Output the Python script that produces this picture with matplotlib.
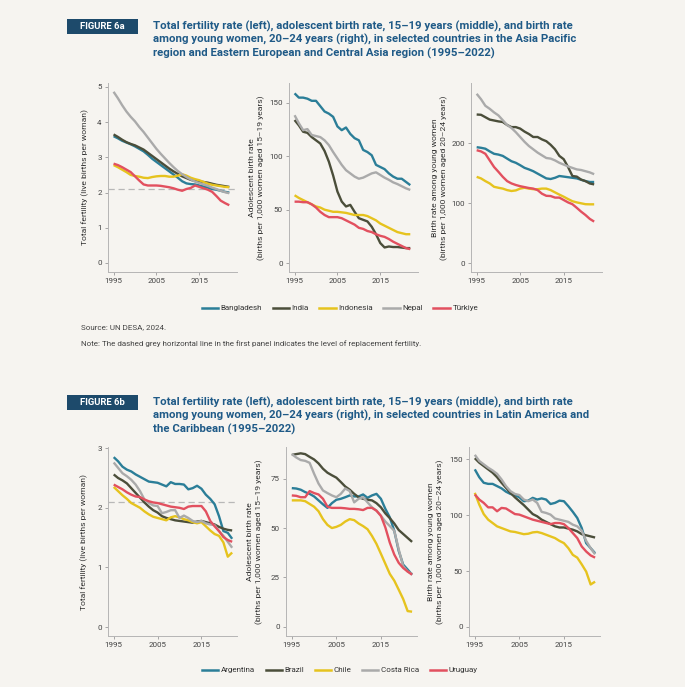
import numpy as np
import matplotlib.pyplot as plt
from matplotlib.patches import Rectangle
from matplotlib.lines import Line2D

plt.rcParams['font.family'] = ['Roboto', 'DejaVu Sans']

years = list(range(1995, 2023))

# Figure 6a: Asia Pacific / Eastern Europe and Central Asia
asia_names = ['Bangladesh', 'India', 'Indonesia', 'Nepal', 'Türkiye']
tfr_bangladesh = [3.6, 3.54, 3.47, 3.42, 3.37, 3.31, 3.24, 3.17, 3.07, 2.96, 2.87, 2.78, 2.69, 2.6,
                  2.51, 2.42, 2.32, 2.26, 2.24, 2.23, 2.2, 2.17, 2.14, 2.1, 2.08, 2.05, 2.02, 2.0]
tfr_india = [3.65, 3.58, 3.5, 3.43, 3.38, 3.34, 3.28, 3.22, 3.13, 3.04, 2.95, 2.86, 2.77, 2.68,
             2.6, 2.53, 2.46, 2.41, 2.36, 2.33, 2.31, 2.3, 2.28, 2.25, 2.22, 2.2, 2.18, 2.16]
tfr_indonesia = [2.78, 2.72, 2.65, 2.58, 2.5, 2.47, 2.45, 2.42, 2.41, 2.44, 2.46, 2.47, 2.47, 2.45,
                 2.45, 2.48, 2.52, 2.48, 2.42, 2.38, 2.35, 2.3, 2.25, 2.22, 2.2, 2.18, 2.16, 2.15]
tfr_nepal = [4.86, 4.68, 4.48, 4.3, 4.15, 4.02, 3.86, 3.72, 3.56, 3.4, 3.24, 3.1, 2.97, 2.84,
             2.72, 2.61, 2.52, 2.44, 2.37, 2.31, 2.27, 2.23, 2.19, 2.14, 2.1, 2.05, 2.01, 1.98]
tfr_turkiye = [2.82, 2.78, 2.72, 2.65, 2.58, 2.46, 2.34, 2.23, 2.2, 2.2, 2.2, 2.19, 2.17, 2.15,
               2.12, 2.08, 2.05, 2.1, 2.13, 2.2, 2.16, 2.12, 2.08, 2.02, 1.9, 1.77, 1.7, 1.64]

abr_bangladesh = [159, 155, 155, 154, 152, 152, 147, 142, 140, 137, 128, 124.5, 127, 121,
                  117, 115, 106, 104, 101, 92, 90, 88, 84, 81, 79, 79, 76, 73]
abr_india = [134, 129, 123, 122, 118, 115, 112, 105, 95, 82, 67, 57.6, 53, 54.5,
             48, 42, 40.5, 39, 34, 27, 18.7, 14.6, 15.5, 15, 15, 14.5, 14, 14]
abr_indonesia = [63.5, 61, 59, 57, 55, 53, 52, 50, 49, 48, 48, 47.5, 47, 46,
                 45, 45, 45, 44, 42, 40, 37, 35, 33, 31, 29, 28, 27, 27]
abr_nepal = [138.5, 131, 124.5, 125.5, 120, 119, 118, 115, 110.5, 104, 98, 92, 87, 84,
             81, 79, 80, 82, 84, 85, 82.5, 80, 78, 75.6, 74, 72, 70, 68.5]
abr_turkiye = [57.5, 57.5, 57, 57, 55, 52, 48, 45, 43, 43, 43, 42, 40, 38,
               36, 33, 32, 30, 29, 27, 25.5, 24.5, 22.5, 20, 18, 16, 14, 13]

yw_bangladesh = [193, 192, 190.5, 186, 182, 180.7, 178.5, 174, 169.6, 167, 163, 158.6, 156, 153,
                 149, 145, 141, 140, 142, 145, 144, 143, 142, 141, 138.7, 136.5, 135, 135]
yw_india = [247.5, 247, 243, 239, 237.5, 236, 235, 230, 226.5, 226.5, 224, 219, 215, 210,
            210, 206, 203, 197, 189.5, 178.5, 173, 160, 145, 144, 139, 136.5, 132.5, 131]
yw_indonesia = [143.6, 141, 136.5, 132.6, 127, 125.4, 124, 121.5, 120, 121, 124, 125.4, 124, 123,
                123, 124, 124, 121.5, 117.7, 114, 110.5, 106.6, 103, 101, 99.5, 98, 97.8, 97.8]
yw_nepal = [282, 273, 262, 257, 251, 246, 238, 230, 225, 218, 210, 202, 195, 189.5,
            184, 179.5, 175, 174, 171, 167, 164, 161, 158.5, 156, 155, 153, 151, 148]
yw_turkiye = [188, 186, 182, 171, 160, 152, 143.6, 136.5, 132.6, 130, 128, 126.5, 125, 124,
              121.5, 115.5, 112, 111.6, 109, 109, 105, 101, 98, 92, 85.6, 80, 73.5, 69]

# Figure 6b: Latin America and the Caribbean
latam_names = ['Argentina', 'Brazil', 'Chile', 'Costa Rica', 'Uruguay']
tfr_argentina = [2.85, 2.78, 2.69, 2.64, 2.61, 2.56, 2.52, 2.48, 2.44, 2.43, 2.42, 2.39, 2.36, 2.43,
                 2.4, 2.4, 2.39, 2.31, 2.33, 2.37, 2.32, 2.22, 2.15, 2.06, 1.86, 1.61, 1.58, 1.48]
tfr_brazil = [2.56, 2.5, 2.46, 2.41, 2.33, 2.25, 2.17, 2.09, 2.02, 1.96, 1.92, 1.86, 1.83, 1.81,
              1.79, 1.78, 1.77, 1.76, 1.75, 1.77, 1.78, 1.76, 1.74, 1.72, 1.68, 1.65, 1.63, 1.62]
tfr_chile = [2.35, 2.28, 2.21, 2.15, 2.08, 2.04, 2.0, 1.94, 1.89, 1.85, 1.83, 1.81, 1.79, 1.84,
             1.86, 1.84, 1.81, 1.79, 1.76, 1.74, 1.76, 1.69, 1.62, 1.56, 1.53, 1.42, 1.18, 1.25]
tfr_costarica = [2.76, 2.67, 2.58, 2.53, 2.47, 2.39, 2.28, 2.14, 2.08, 2.04, 2.03, 1.91, 1.93, 1.96,
                 1.96, 1.83, 1.87, 1.83, 1.78, 1.76, 1.78, 1.74, 1.72, 1.71, 1.61, 1.53, 1.43, 1.33]
tfr_uruguay = [2.39, 2.35, 2.31, 2.26, 2.22, 2.19, 2.18, 2.14, 2.11, 2.09, 2.08, 2.06, 2.04, 2.02,
               2.01, 2.0, 1.98, 2.02, 2.03, 2.03, 2.03, 1.94, 1.78, 1.69, 1.61, 1.51, 1.46, 1.43]

abr_argentina = [70.2, 70, 69.4, 68.2, 67.3, 66, 64, 62, 60.2, 62.6, 64.3, 64.8, 65.6, 66.5,
                 66, 66, 67, 65.3, 66.5, 67.3, 64.8, 59.7, 55.4, 48.6, 38.4, 31.5, 29, 26.4]
abr_brazil = [87, 87.4, 87.8, 87.4, 86, 84.7, 82.7, 80, 78, 76.7, 75.5, 73.3, 71, 69.4,
              67.3, 65.6, 64.8, 64.3, 64, 62.6, 60.5, 57.4, 55, 52.3, 49, 47, 45, 43]
abr_chile = [64, 64, 64, 63.6, 62.2, 60.8, 58.5, 54.5, 51.6, 50, 50.6, 51.6, 53.3, 54.5,
             54, 52.3, 51, 49.4, 46, 42, 37, 31.9, 26.8, 23.4, 18.8, 14.1, 8, 7.7]
abr_costarica = [87.4, 85.7, 84.4, 84, 83, 77.5, 72.5, 69, 67.7, 66.5, 65.6, 67.3, 70, 68.7,
                 63, 64.8, 65.6, 63, 60.5, 58.8, 56.2, 53.3, 51, 48.6, 39.2, 30.7, 28, 26.8]
abr_uruguay = [66.5, 66.3, 65.6, 65.6, 68.7, 67.7, 67, 64.8, 60.8, 60.2, 60.2, 60.2, 60, 59.7,
               59.7, 59.5, 59.1, 60.2, 60.2, 58.8, 56.2, 50.3, 42.6, 36.6, 32.4, 29.8, 28, 26.4]

yw_argentina = [141, 134, 129, 128, 128, 126, 124, 121, 119, 118, 116, 112.5, 113, 115.5,
                114, 115, 114, 110, 111, 113, 112.5, 108, 103, 97.5, 88.5, 75, 70.5, 66]
yw_brazil = [151, 147, 144, 141, 138, 134, 129, 124.5, 120, 116, 112.5, 109, 105, 101,
             99, 96, 94, 92, 90, 89, 89, 88, 87, 85.5, 83, 82, 81, 80]
yw_chile = [120, 109.5, 101, 96, 93, 90, 88.5, 87, 85.5, 85, 84, 83, 83.4, 84.6,
            85, 84, 82.5, 81, 79.5, 77, 75, 70.5, 64.5, 62, 56, 49.5, 38, 40.5]
yw_costarica = [154, 148.5, 145.5, 142.5, 140, 137, 132, 126, 121.5, 119, 118, 114, 112.5, 114,
                111, 103, 102, 100.5, 97, 96, 95, 94, 91.5, 90, 86, 77, 70.5, 65]
yw_uruguay = [118.5, 114, 111, 107, 107, 103.5, 106.5, 106, 103.5, 101, 100.5, 99, 97.5, 96,
              95, 94, 93, 92, 93, 93, 92, 88.5, 84, 79.5, 72, 67.5, 64, 62]

replacement_level = 2.1
colors = ['#2b7e98', '#4b4e3a', '#e6c31e', '#aaaaaa', '#e2505f']

title_a = ('Total fertility rate (left), adolescent birth rate, 15\u201319 years (middle), and birth rate\n'
           'among young women, 20\u201324 years (right), in selected countries in the Asia Pacific\n'
           'region and Eastern European and Central Asia region (1995\u20132022)')
title_b = ('Total fertility rate (left), adolescent birth rate, 15\u201319 years (middle), and birth rate\n'
           'among young women, 20\u201324 years (right), in selected countries in Latin America and\n'
           'the Caribbean (1995\u20132022)')
ylabels = ['Total fertility (live births per woman)',
           'Adolescent birth rate\n(births per 1,000 women aged 15\u201319 years)',
           'Birth rate among young women\n(births per 1,000 women aged 20\u201324 years)']

W, H = 685, 687
bg = '#f6f4f0'
fig = plt.figure(figsize=(W / 100, H / 100), dpi=100, facecolor=bg)


def fx(x):
    return x / W


def fy(y):
    return 1 - y / H


def make_ax(left, right, top, bottom):
    ax = fig.add_axes([fx(left), fy(bottom), fx(right - left), (bottom - top) / H])
    ax.set_facecolor('none')
    for s in ['top', 'right']:
        ax.spines[s].set_visible(False)
    for s in ['left', 'bottom']:
        ax.spines[s].set_color('#b5b5b5')
        ax.spines[s].set_linewidth(0.7)
    ax.tick_params(colors='#999999', labelcolor='#444444', labelsize=5.8, length=2.5, width=0.6, pad=2)
    ax.set_xticks([1995, 2005, 2015])
    return ax


def draw_row(series_sets, names, lefts_rights, top, bottom, ylims, yticks, xlim, label_xs, hline_panel):
    for i, (series, (l, r)) in enumerate(zip(series_sets, lefts_rights)):
        ax = make_ax(l, r, top, bottom)
        if i == hline_panel:
            ax.axhline(replacement_level, color='#b8b8b8', lw=0.9, ls=(0, (5, 3)), zorder=1)
        for vals, c in zip(series, colors):
            ax.plot(years, vals, color=c, lw=1.7, solid_capstyle='butt', zorder=2)
        ax.set_xlim(*xlim)
        ax.set_ylim(*ylims[i])
        ax.set_yticks(yticks[i])
        fig.text(fx(label_xs[i]), fy((top + bottom) / 2), ylabels[i], rotation=90, ha='center',
                 va='center', fontsize=6.1, color='#333333', multialignment='center', linespacing=1.3)


def header(y_mid, label, title):
    fig.patches.append(Rectangle((fx(67), fy(y_mid + 7.5)), fx(71), 15 / H, transform=fig.transFigure,
                                 facecolor='#1d4a6b', edgecolor='none'))
    fig.text(fx(102), fy(y_mid), label, color='white', fontsize=6.8, fontweight='bold',
             ha='center', va='center')
    fig.text(fx(153), fy(y_mid - 5.5), title, color='#1f5a87', fontsize=8.2, fontweight='bold',
             ha='left', va='top', linespacing=1.22)


def legend(y_mid, names):
    handles = [Line2D([], [], color=c, lw=1.8) for c in colors]
    fig.legend(handles, names, loc='center', bbox_to_anchor=(fx(340), fy(y_mid)), ncol=5,
               frameon=False, fontsize=5.8, handlelength=2.0, handletextpad=0.35,
               columnspacing=1.3, labelcolor='#333333')


# figure 6a
header(26.5, 'FIGURE 6a', title_a)
draw_row([[tfr_bangladesh, tfr_india, tfr_indonesia, tfr_nepal, tfr_turkiye],
          [abr_bangladesh, abr_india, abr_indonesia, abr_nepal, abr_turkiye],
          [yw_bangladesh, yw_india, yw_indonesia, yw_nepal, yw_turkiye]],
         asia_names, [(108, 237), (289, 418), (471, 602)], 83, 272,
         [(-0.256, 5.11), (-8.4, 168.7), (-15, 300)],
         [[0, 1, 2, 3, 4, 5], [0, 50, 100, 150], [0, 100, 200]],
         (1993.7, 2023.8), [85, 257, 440], 0)
legend(308, asia_names)
fig.text(fx(81), fy(327), 'Source: UN DESA, 2024.', fontsize=5.8, color='#444444', va='center')
fig.text(fx(81), fy(344), 'Note: The dashed grey horizontal line in the first panel indicates the level of '
         'replacement fertility.', fontsize=5.8, color='#444444', va='center')

# figure 6b
header(402.5, 'FIGURE 6b', title_b)
draw_row([[tfr_argentina, tfr_brazil, tfr_chile, tfr_costarica, tfr_uruguay],
          [abr_argentina, abr_brazil, abr_chile, abr_costarica, abr_uruguay],
          [yw_argentina, yw_brazil, yw_chile, yw_costarica, yw_uruguay]],
         latam_names, [(108, 237), (286, 417), (469, 600)], 447, 636,
         [(-0.15, 3.02), (-4.6, 91), (-8.1, 161)],
         [[0, 1, 2, 3], [0, 25, 50, 75], [0, 50, 100, 150]],
         (1993.7, 2023.1), [84, 255, 436], 0)
legend(670, latam_names)

fig.savefig('out.png', dpi=100, facecolor=bg)
